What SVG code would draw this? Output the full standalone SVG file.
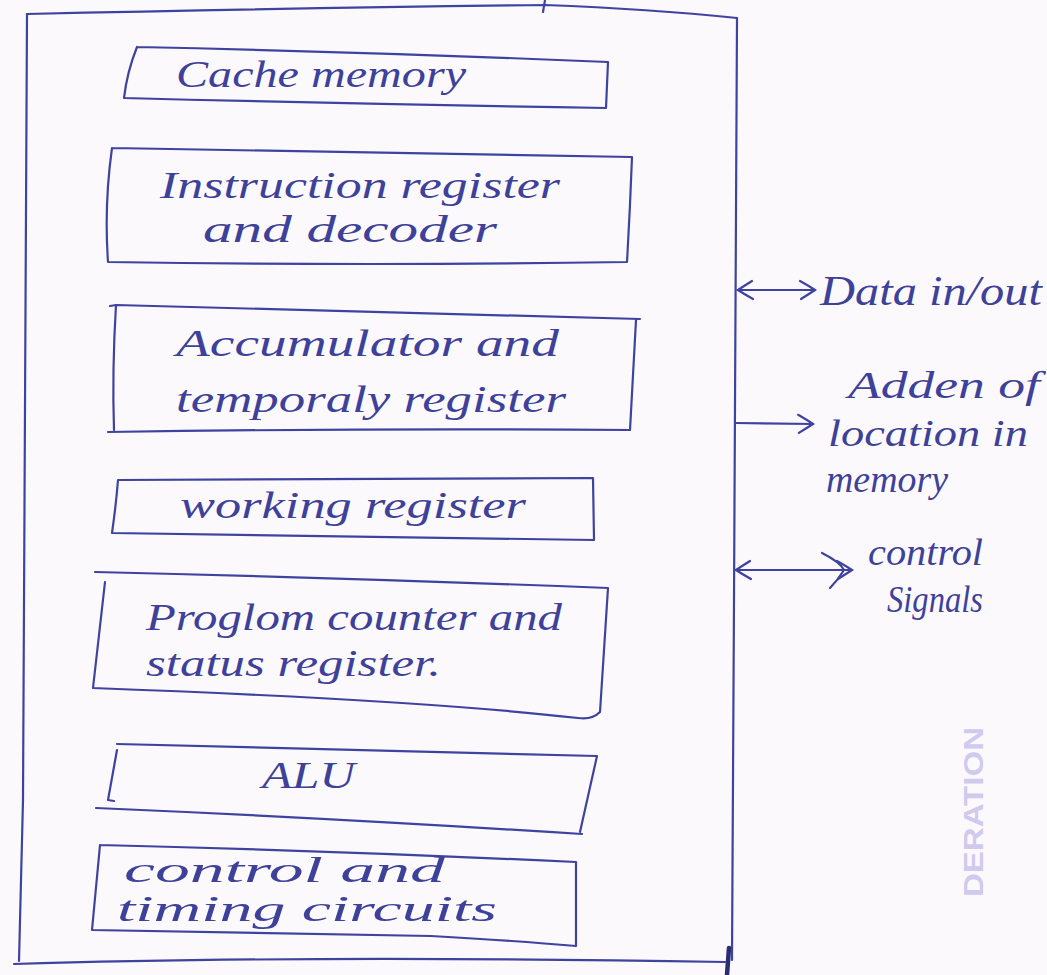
<svg xmlns="http://www.w3.org/2000/svg" width="1047" height="975" viewBox="0 0 1047 975">
  <defs>
    <style>
      .ink { fill: none; stroke: #3f43a0; stroke-width: 2.2; stroke-linecap: round; stroke-linejoin: round; }
      .hand { font-family: "Liberation Serif", "DejaVu Serif", serif; font-style: italic; font-size: 38px; fill: #3d4199; }
      .big { font-size: 42px; }
      .small { font-size: 35px; }
      .mark { font-family: "Liberation Sans", "DejaVu Sans", sans-serif; font-weight: bold; font-size: 28px; fill: #cfcaee; }
    </style>
    <!-- open hand-drawn arrowhead, reversed at path start -->
    <marker id="chev" viewBox="0 0 20 24" markerWidth="20" markerHeight="24" refX="18" refY="12" orient="auto-start-reverse" markerUnits="userSpaceOnUse">
      <path d="M3,3 Q12,8 18,12 Q12,16 4,21" fill="none" stroke="#3f43a0" stroke-width="2.2" stroke-linecap="round"/>
    </marker>
  </defs>

  <!-- paper -->
  <rect width="1047" height="975" fill="#fcf9fc"/>

  <!-- faint watermark on the sheet edge -->
  <text class="mark" transform="translate(983,897) rotate(-90)" x="0" y="0" textLength="170" lengthAdjust="spacingAndGlyphs">DERATION</text>

  <!-- outer processor outline -->
  <g id="processor">
    <path class="ink" d="M27,14 Q300,8 545,5 Q650,9 737,18"/>
    <path class="ink" d="M545,0 L543,12"/>
    <path class="ink" d="M27,14 L23,800 L19,961"/>
    <path class="ink" d="M14,964 Q310,955 725,962"/>
    <path class="ink" d="M737,18 L734,600 L732,960"/>
    <path d="M729,948 L727,975" fill="none" stroke="#2a2d70" stroke-width="4.5" stroke-linecap="round"/>
  </g>

  <g id="cache">
    <path class="ink" d="M137,47 Q370,52 608,62 L606,108 Q360,104 124,98 Q127,72 137,47"/>
    <text class="hand" x="176" y="87" textLength="290" lengthAdjust="spacingAndGlyphs">Cache memory</text>
  </g>

  <g id="instruction">
    <path class="ink" d="M112,148 Q370,152 632,157 Q630,210 627,262 Q370,266 108,262 Q104,205 112,148"/>
    <text class="hand" x="160" y="198" textLength="400" lengthAdjust="spacingAndGlyphs">Instruction register</text>
    <text class="hand" x="203" y="242" textLength="294" lengthAdjust="spacingAndGlyphs">and decoder</text>
  </g>

  <g id="accumulator">
    <path class="ink" d="M110,306 L116,305 Q380,312 640,319"/>
    <path class="ink" d="M636,320 L630,430"/>
    <path class="ink" d="M116,305 Q112,370 114,430"/>
    <path class="ink" d="M108,432 Q370,428 630,430"/>
    <text class="hand" x="176" y="356" textLength="383" lengthAdjust="spacingAndGlyphs">Accumulator and</text>
    <text class="hand" x="176" y="412" textLength="390" lengthAdjust="spacingAndGlyphs">temporaly register</text>
  </g>

  <g id="working">
    <path class="ink" d="M118,480 L593,478 L594,540 L112,533 Q116,505 118,480"/>
    <text class="hand" x="180" y="518" textLength="346" lengthAdjust="spacingAndGlyphs">working register</text>
  </g>

  <g id="program">
    <path class="ink" d="M95,572 Q350,578 608,588 L600,712 Q592,720 578,718 Q420,700 93,688 L105,582"/>
    <text class="hand" x="146" y="630" textLength="416" lengthAdjust="spacingAndGlyphs">Proglom counter and</text>
    <text class="hand" x="146" y="676" textLength="295" lengthAdjust="spacingAndGlyphs">status register.</text>
  </g>

  <g id="alu">
    <path class="ink" d="M117,744 L597,756 L580,832"/>
    <path class="ink" d="M96,808 Q330,818 582,834"/>
    <path class="ink" d="M117,750 L108,800 L114,801"/>
    <text class="hand" x="262" y="788" textLength="93" lengthAdjust="spacingAndGlyphs">ALU</text>
  </g>

  <g id="control">
    <path class="ink" d="M100,845 Q340,851 576,862 L576,946 Q520,941 431,936 Q240,932 92,930 L100,845"/>
    <text class="hand small" x="124" y="882" textLength="321" lengthAdjust="spacingAndGlyphs">control and</text>
    <text class="hand small" x="117" y="921" textLength="380" lengthAdjust="spacingAndGlyphs">timing circuits</text>
  </g>

  <!-- bus lines leaving the processor -->
  <g id="connectors">
    <path class="ink" d="M738,290 L815,290" marker-start="url(#chev)" marker-end="url(#chev)"/>
    <path class="ink" d="M736,423 L813,424" marker-end="url(#chev)"/>
    <path class="ink" d="M736,570 L852,570" marker-start="url(#chev)" marker-end="url(#chev)"/>
    <path class="ink" d="M822,553 Q840,562 844,570 Q838,580 830,588"/>
  </g>

  <g id="bus-labels">
    <text class="hand big" x="820" y="305" textLength="222" lengthAdjust="spacingAndGlyphs">Data in/out</text>
    <text class="hand" x="848" y="398" textLength="192" lengthAdjust="spacingAndGlyphs">Adden of</text>
    <text class="hand" x="828" y="446" textLength="200" lengthAdjust="spacingAndGlyphs">location in</text>
    <text class="hand" x="826" y="492" textLength="122" lengthAdjust="spacingAndGlyphs">memory</text>
    <text class="hand" x="868" y="565" textLength="115" lengthAdjust="spacingAndGlyphs">control</text>
    <text class="hand" x="887" y="612" textLength="96" lengthAdjust="spacingAndGlyphs">Signals</text>
  </g>
</svg>
